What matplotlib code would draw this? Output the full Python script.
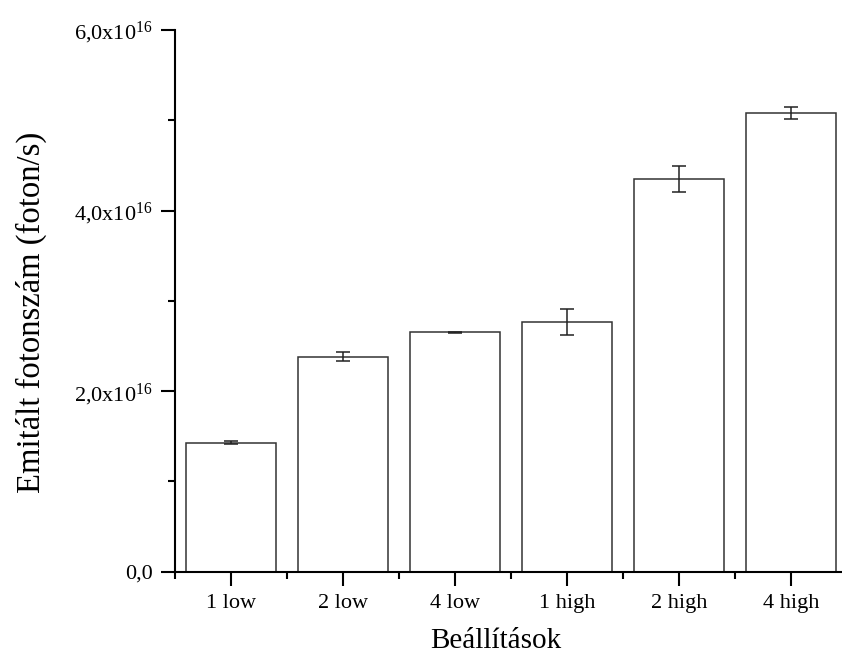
import matplotlib
matplotlib.use("Agg")
import matplotlib.pyplot as plt
from matplotlib.ticker import FixedLocator, MultipleLocator

plt.rcParams['font.family'] = ['Liberation Serif', 'DejaVu Serif']
plt.rcParams['mathtext.fontset'] = 'custom'
plt.rcParams['mathtext.rm'] = 'Liberation Serif'
plt.rcParams['mathtext.it'] = 'Liberation Serif:italic'

categories = ["1 low", "2 low", "4 low", "1 high", "2 high", "4 high"]
values = [1.429e16, 2.381e16, 2.651e16, 2.765e16, 4.349e16, 5.083e16]
errors = [0.015e16, 0.048e16, 0.006e16, 0.14e16, 0.144e16, 0.065e16]
y_ticks = [0, 2e16, 4e16, 6e16]
y_tick_labels = ["0,0", r"2,0x10$^{16}$", r"4,0x10$^{16}$", r"6,0x10$^{16}$"]

fig = plt.figure(figsize=(8.42, 6.59), dpi=100)
ax = fig.add_axes([175/842, 87.3/659, (847-175)/842, (571.7-30)/659])

x = list(range(len(categories)))
ax.bar(x, values, width=0.8, color='white', edgecolor='#333333', linewidth=1.1,
       yerr=errors, capsize=5, error_kw=dict(ecolor='#222222', elinewidth=1.1, capthick=1.1))

ax.set_xlim(-0.5, 5.5)
ax.set_ylim(0, 6e16)
ax.set_xticks(x)
ax.set_xticklabels(categories, fontsize=16)
ax.xaxis.set_minor_locator(FixedLocator([i + 0.5 for i in range(-1, 6)]))
ax.set_yticks(y_ticks)
ax.set_yticklabels(y_tick_labels, fontsize=16)
ax.yaxis.set_minor_locator(MultipleLocator(1e16))

for s in ['top', 'right']:
    ax.spines[s].set_visible(False)
for s in ['left', 'bottom']:
    ax.spines[s].set_linewidth(1.5)

ax.tick_params(axis='both', which='major', direction='out', length=10, width=1.5, pad=6)
ax.tick_params(axis='both', which='minor', direction='out', length=5, width=1.5)

fig.text(31/842, 1 - 312/659, "Emitált fotonszám (foton/s)", rotation=90,
         ha='center', va='center', fontsize=23.5)
fig.text(496/842, 1 - 648/659, "Beállítások", ha='center', va='baseline', fontsize=21)

fig.savefig("out.png", dpi=100)
